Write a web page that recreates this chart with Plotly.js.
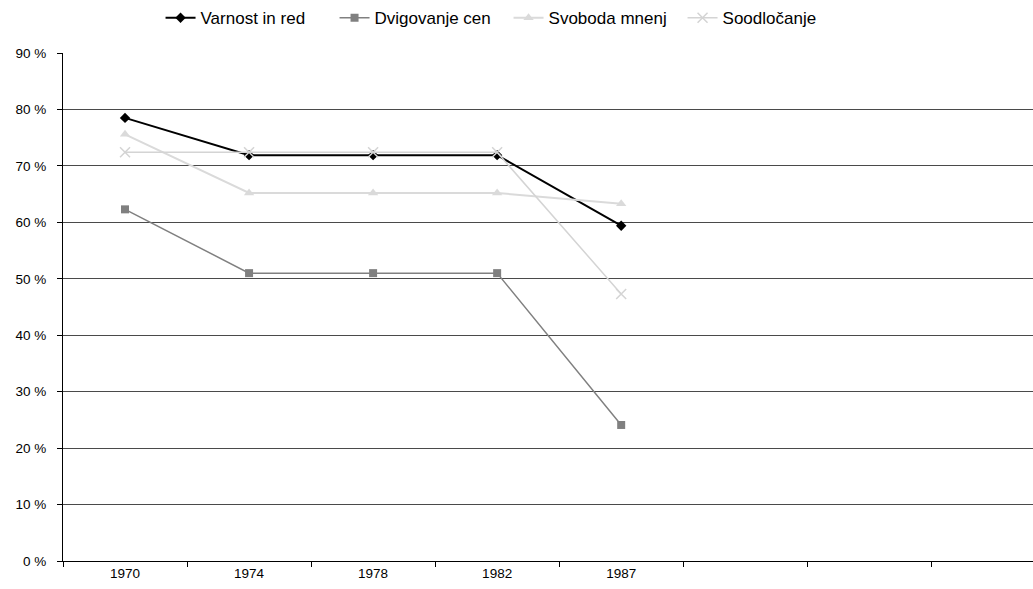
<!DOCTYPE html>
<html>
<head>
<meta charset="utf-8">
<script src="https://cdn.plot.ly/plotly-3.0.1.min.js"></script>
<style>html,body{margin:0;padding:0;background:#fff;}#chart{width:1033px;height:589px;}</style>
</head>
<body>
<div id="chart"></div>
<script>
const years = ['1970', '1974', '1978', '1982', '1987'];
const varnostInRed = [78.5, 71.9, 71.9, 71.9, 59.4];
const dvigovanjeCen = [62.3, 51.0, 51.0, 51.0, 24.1];
const svobodaMnenj = [75.6, 65.2, 65.2, 65.2, 63.3];
const soodlocanje = [72.4, 72.4, 72.4, 72.4, 47.3];
const yTicks = [0, 10, 20, 30, 40, 50, 60, 70, 80, 90];

const xIdx = years.map((_, i) => i);

const traces = [
  {name: 'Varnost in red', y: varnostInRed, line: {color: '#000000', width: 2},
   marker: {symbol: 'diamond', size: 8, color: '#000000'}},
  {name: 'Dvigovanje cen', y: dvigovanjeCen, line: {color: '#808080', width: 1.5},
   marker: {symbol: 'square', size: 8, color: '#808080'}},
  {name: 'Svoboda mnenj', y: svobodaMnenj, line: {color: '#dadada', width: 2},
   marker: {symbol: 'triangle-up', size: 9, color: '#dadada'}},
  {name: 'Soodločanje', y: soodlocanje, line: {color: '#d4d4d4', width: 1.5},
   marker: {symbol: 'x-thin', size: 10, color: '#d4d4d4', line: {color: '#d4d4d4', width: 1.5}}}
].map(t => Object.assign({type: 'scatter', mode: 'lines+markers', x: xIdx}, t));

const layout = {
  width: 1033, height: 589,
  margin: {l: 63, r: 0, t: 53, b: 28},
  paper_bgcolor: '#ffffff', plot_bgcolor: '#ffffff',
  font: {family: 'Liberation Sans, Arial, sans-serif', color: '#000000'},
  showlegend: true,
  legend: {orientation: 'h', xref: 'container', yref: 'container', x: 0.4923, xanchor: 'center',
           y: 0.969, yanchor: 'middle', entrywidth: 129, entrywidthmode: 'pixels',
           font: {size: 17, color: '#000000'}},
  xaxis: {
    range: [-0.5, 7.32], tickmode: 'array', tickvals: xIdx, ticktext: years,
    ticks: '', showgrid: false, zeroline: false, showline: true, linecolor: '#000000', linewidth: 1,
    tickfont: {size: 13.5, color: '#000000'},
    minor: {tick0: 0.5, dtick: 1, ticks: 'outside', ticklen: 5, tickcolor: '#000000', tickwidth: 1, showgrid: false},
    fixedrange: true
  },
  yaxis: {
    range: [0, 90], tickmode: 'array', tickvals: yTicks, ticktext: yTicks.map(v => v + ' %'),
    ticks: 'outside', ticklen: 5, tickcolor: '#000000', ticklabelstandoff: 8,
    showgrid: true, gridcolor: '#4a4a4a', gridwidth: 1, zeroline: false,
    showline: true, linecolor: '#000000', linewidth: 1,
    tickfont: {size: 13.5, color: '#000000'}, fixedrange: true
  }
};

Plotly.newPlot('chart', traces, layout, {staticPlot: true});
</script>
</body>
</html>
